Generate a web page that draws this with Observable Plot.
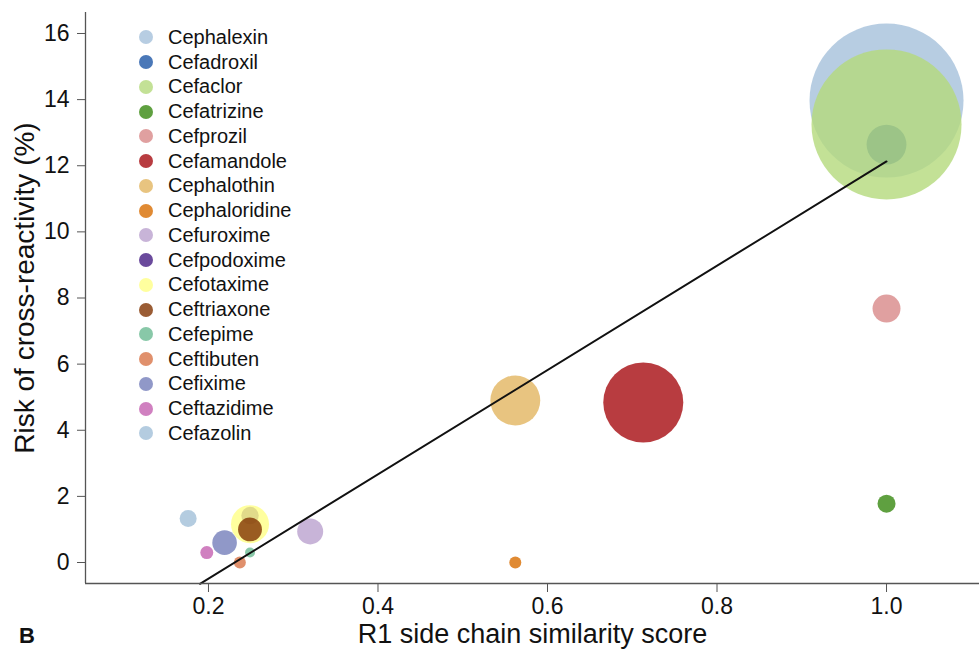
<!DOCTYPE html>
<html>
<head>
<meta charset="utf-8">
<script src="https://cdn.jsdelivr.net/npm/d3@7"></script>
<script src="https://cdn.jsdelivr.net/npm/@observablehq/plot@0.6"></script>
<style>
  html, body { margin: 0; padding: 0; background: #fff; }
  #wrap { position: relative; width: 979px; height: 650px; font-family: "Liberation Sans", Arial, Helvetica, sans-serif; }
  #legend { position: absolute; left: 139px; top: 25px; }
  .row { display: flex; align-items: center; height: 24.75px; font-size: 20px; color: #111; white-space: nowrap; }
  .sw { width: 14px; height: 14px; border-radius: 50%; margin-right: 15px; }
  #tag { position: absolute; left: 19px; top: 623px; font-size: 22px; font-weight: bold; color: #111; }
</style>
</head>
<body>
<div id="wrap"><div id="legend"></div><div id="tag">B</div></div>
<script>
// Drug names (legend order = drawing order)
const drugs = ["Cephalexin","Cefadroxil","Cefaclor","Cefatrizine","Cefprozil","Cefamandole","Cephalothin","Cephaloridine","Cefuroxime","Cefpodoxime","Cefotaxime","Ceftriaxone","Cefepime","Ceftibuten","Cefixime","Ceftazidime","Cefazolin"];
// R1 side chain similarity score
const similarity = [1.0, 1.0, 1.0, 1.0, 1.0, 0.713, 0.562, 0.562, 0.32, 0.249, 0.249, 0.249, 0.249, 0.237, 0.219, 0.198, 0.176];
// Risk of cross-reactivity (%)
const risk = [13.97, 12.64, 13.25, 1.78, 7.68, 4.84, 4.9, 0.0, 0.94, 1.42, 1.16, 1.0, 0.3, 0.0, 0.6, 0.3, 1.33];
// Relative study weight (bubble area)
const weight = [100, 6.7, 94.9, 1.37, 3.3, 27, 10.5, 0.61, 2.85, 1.28, 6.1, 2.4, 0.42, 0.61, 2.55, 0.71, 1.22];
// Colours
const colors = ["#a5c0db","#1d56a6","#b4d97c","#378810","#d88888","#a60b10","#e2b560","#d86d00","#baa1ce","#451d83","#ffff86","#813301","#6aba92","#d87447","#747eba","#c460b0","#a1bfd8"];
// Meta-regression fit line
const fitIntercept = -3.64;
const fitSlope = 15.77;
const fitRange = [0.19, 1.0];
// Axes
const xTicks = [0.2, 0.4, 0.6, 0.8, 1.0];
const yTicks = [0, 2, 4, 6, 8, 10, 12, 14, 16];
const xDomain = [0.0549, 1.1097];
const yDomain = [-0.635, 16.635];

const data = drugs.map((d, i) => ({drug: d, x: similarity[i], y: risk[i], w: weight[i], c: colors[i]}));
const fit = fitRange.map(x => ({x, y: fitIntercept + fitSlope * x}));

const font = '"Liberation Sans", Arial, Helvetica, sans-serif';
const chart = Plot.plot({
  width: 979,
  height: 650,
  marginLeft: 85,
  marginRight: 0,
  marginTop: 12,
  marginBottom: 67,
  style: {fontFamily: font, fontSize: "22px", color: "#111", background: "#fff"},
  x: {domain: xDomain},
  y: {domain: yDomain},
  r: {type: "sqrt", domain: [0, 100], range: [0, 77]},
  marks: [
    Plot.dot(data, {x: "x", y: "y", r: "w", fill: "c", fillOpacity: 0.8, stroke: "none", sort: null}),
    Plot.line(fit, {x: "x", y: "y", stroke: "#111", strokeWidth: 2}),
    Plot.ruleX([xDomain[0]], {stroke: "#555", strokeWidth: 1.3}),
    Plot.ruleY([yDomain[0]], {stroke: "#555", strokeWidth: 1.3}),
    Plot.axisX({ticks: xTicks, tickFormat: d3.format(".1f"), tickSize: 9, tickPadding: 5, label: null, stroke: "#555", fontSize: 23}),
    Plot.axisY({ticks: yTicks, tickFormat: d => String(d), tickSize: 8, tickPadding: 8, label: null, stroke: "#555", fontSize: 23}),
    Plot.text(["R1 side chain similarity score"], {frameAnchor: "bottom", dy: 51, text: d => d, fontSize: 27, fill: "#111", lineAnchor: "middle", textAnchor: "middle"}),
    Plot.text(["Risk of cross-reactivity (%)"], {frameAnchor: "left", dx: -60, dy: -10, rotate: -90, text: d => d, fontSize: 28, fill: "#111", lineAnchor: "middle", textAnchor: "middle"})
  ]
});
document.getElementById("wrap").prepend(chart);
chart.style.position = "absolute";
chart.style.left = "0";
chart.style.top = "0";

const legend = document.getElementById("legend");
data.forEach(d => {
  const row = document.createElement("div");
  row.className = "row";
  const sw = document.createElement("div");
  sw.className = "sw";
  sw.style.background = d.c;
  sw.style.opacity = 0.8;
  const lab = document.createElement("span");
  lab.textContent = d.drug;
  row.appendChild(sw);
  row.appendChild(lab);
  legend.appendChild(row);
});
</script>
</body>
</html>
